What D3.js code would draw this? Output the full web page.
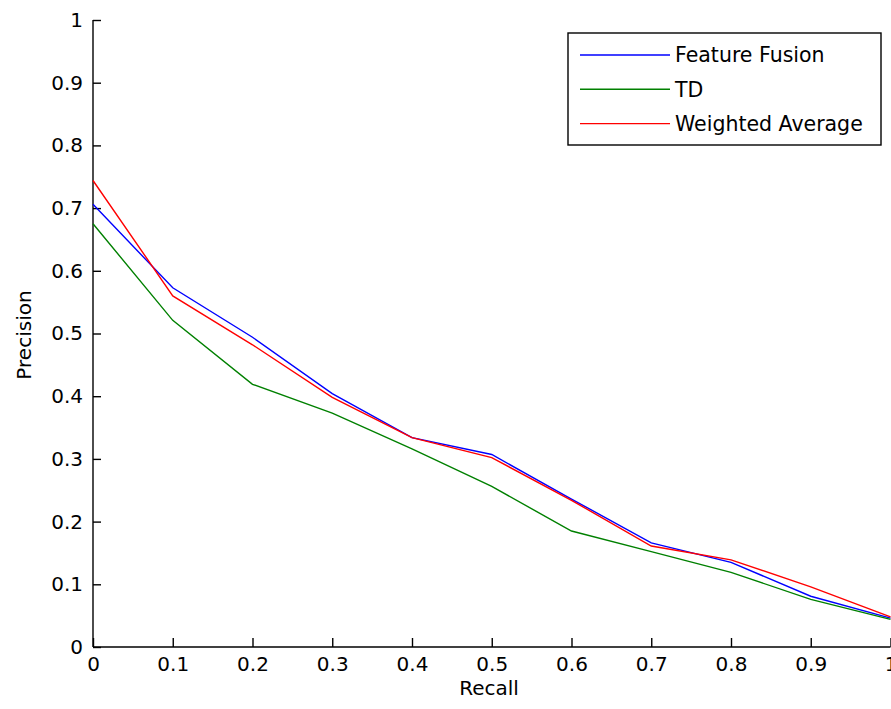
<!DOCTYPE html>
<html>
<head>
<meta charset="utf-8">
<script src="https://cdn.jsdelivr.net/npm/d3@7"></script>
<style>
  html, body { margin: 0; padding: 0; background: #fff; overflow: hidden; }
  svg { display: block; }
  text { font-family: "DejaVu Sans", sans-serif; fill: #000; }
</style>
</head>
<body>
<svg id="chart" width="891" height="709"></svg>
<script>
// ---- data ----
const recall = [0, 0.1, 0.2, 0.3, 0.4, 0.5, 0.6, 0.7, 0.8, 0.9, 1.0];
const featureFusion = [0.706, 0.573, 0.494, 0.404, 0.334, 0.307, 0.236, 0.166, 0.135, 0.081, 0.046];
const td = [0.675, 0.521, 0.419, 0.373, 0.316, 0.256, 0.185, 0.152, 0.119, 0.076, 0.044];
const weightedAverage = [0.744, 0.560, 0.482, 0.398, 0.334, 0.302, 0.234, 0.161, 0.139, 0.096, 0.048];
const seriesNames = ["Feature Fusion", "TD", "Weighted Average"];
const seriesColors = ["#0000ff", "#008000", "#ff0000"];
const xTicks = [0, 0.1, 0.2, 0.3, 0.4, 0.5, 0.6, 0.7, 0.8, 0.9, 1];
const yTicks = [0, 0.1, 0.2, 0.3, 0.4, 0.5, 0.6, 0.7, 0.8, 0.9, 1];
const xLabel = "Recall";
const yLabel = "Precision";

(function () {
// ---- layout ----
const svg = d3.select("#chart");
const pl = 93, pr = 890.5, pt = 20, pb = 647;
const fontSize = 20;
const fontFam = "'DejaVu Sans', sans-serif";

const x = d3.scaleLinear().domain([0, 1]).range([pl, pr]);
const y = d3.scaleLinear().domain([0, 1]).range([pb, pt]);

const fmt = d => String(d);

// axes (ticks pointing inward like MATLAB)
const xAxis = d3.axisBottom(x).tickValues(xTicks).tickSize(-9).tickPadding(10).tickFormat(fmt);
const yAxis = d3.axisLeft(y).tickValues(yTicks).tickSize(-8).tickPadding(10).tickFormat(fmt);

const gx = svg.append("g").attr("transform", `translate(0,${pb})`).call(xAxis);
const gy = svg.append("g").attr("transform", `translate(${pl},0)`).call(yAxis);
[gx, gy].forEach(g => {
  g.select(".domain").attr("stroke", "#000").attr("stroke-width", 1.4);
  g.selectAll(".tick line").attr("stroke", "#000").attr("stroke-width", 1.4);
  g.selectAll(".tick text").attr("font-size", fontSize)
    .attr("font-family", fontFam).attr("fill", "#000");
});
gx.select(".domain").attr("d", `M${pl},0H${pr}`);
gy.select(".domain").attr("d", `M0,${pt}V${pb}`);
gx.selectAll(".tick text").attr("y", 10).attr("dy", "0.71em");

// series lines
const seriesData = [featureFusion, td, weightedAverage];
const line = d3.line().x((d, i) => x(recall[i])).y(d => y(d));
seriesData.forEach((vals, k) => {
  svg.append("path")
    .datum(vals)
    .attr("fill", "none")
    .attr("stroke", seriesColors[k])
    .attr("stroke-width", 1.4)
    .attr("d", line);
});

// axis labels
svg.append("text")
  .attr("x", 489)
  .attr("y", 695)
  .attr("text-anchor", "middle")
  .attr("font-size", fontSize)
  .text(xLabel);
svg.append("text")
  .attr("transform", `translate(31,335) rotate(-90)`)
  .attr("text-anchor", "middle")
  .attr("font-size", fontSize)
  .text(yLabel);

// legend
const lg = svg.append("g");
const lx0 = 568, ly0 = 33, lw = 313, lh = 112;
lg.append("rect").attr("x", lx0).attr("y", ly0).attr("width", lw).attr("height", lh)
  .attr("fill", "#fff").attr("stroke", "#000").attr("stroke-width", 1.4);
seriesNames.forEach((name, k) => {
  const cy = 55 + k * 34.3;
  lg.append("line").attr("x1", 580).attr("x2", 670).attr("y1", cy).attr("y2", cy)
    .attr("stroke", seriesColors[k]).attr("stroke-width", 1.4);
  lg.append("text").attr("x", 675).attr("y", cy).attr("dy", "0.36em")
    .attr("font-size", 20.5).text(name);
});
})();
</script>
</body>
</html>
